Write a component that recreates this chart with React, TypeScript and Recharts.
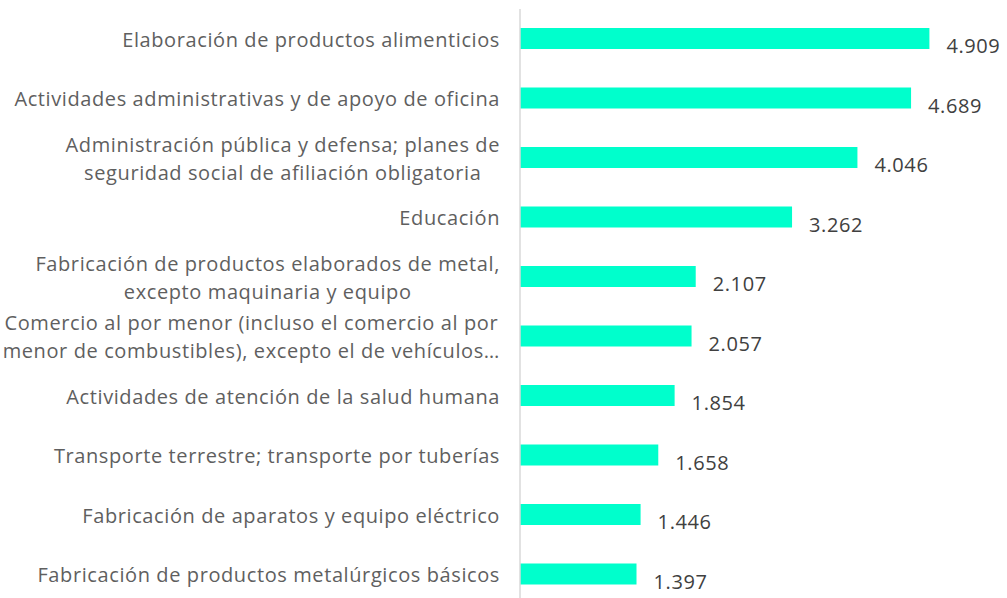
import { BarChart, Bar, XAxis, YAxis, LabelList } from "recharts";

const categories = [
  "Elaboración de productos alimenticios",
  "Actividades administrativas y de apoyo de oficina",
  "Administración pública y defensa; planes de\nseguridad social de afiliación obligatoria",
  "Educación",
  "Fabricación de productos elaborados de metal,\nexcepto maquinaria y equipo",
  "Comercio al por menor (incluso el comercio al por\nmenor de combustibles), excepto el de vehículos…",
  "Actividades de atención de la salud humana",
  "Transporte terrestre; transporte por tuberías",
  "Fabricación de aparatos y equipo eléctrico",
  "Fabricación de productos metalúrgicos básicos",
];

const values = [4909, 4689, 4046, 3262, 2107, 2057, 1854, 1658, 1446, 1397];

const data = categories.map((name, i) => ({ name, value: values[i] }));

const FONT = '"Open Sans", sans-serif';
const FONT_SIZE = 20;
const SPACING = 0.6;

let ctx: CanvasRenderingContext2D | null = null;
function textWidth(s: string) {
  if (!ctx) ctx = document.createElement("canvas").getContext("2d");
  if (!ctx) return s.length * 10;
  ctx.font = `${FONT_SIZE}px "Open Sans"`;
  return ctx.measureText(s).width + s.length * SPACING;
}

const fmt = (v: number) => v.toLocaleString("de-DE");

function CategoryTick(props: any) {
  const { x, y, payload } = props;
  const lines: string[] = String(payload.value).split("\n");
  const right = x - 12;
  const maxW = Math.max(...lines.map(textWidth));
  const cx = right - maxW / 2;
  const lh = 28;
  const startY = y - ((lines.length - 1) * lh) / 2;
  return (
    <text
      textAnchor="middle"
      fill="#5f5f5f"
      fontSize={FONT_SIZE}
      fontFamily={FONT}
      letterSpacing={SPACING}
      dominantBaseline="central"
    >
      {lines.map((l, i) => (
        <tspan key={i} x={cx} y={startY + i * lh}>
          {l}
        </tspan>
      ))}
    </text>
  );
}

function ValueLabel(props: any) {
  const { x, y, width, height, value } = props;
  return (
    <text
      x={x + width + 17}
      y={y + height / 2 + 7}
      fill="#404040"
      fontSize={FONT_SIZE}
      fontFamily={FONT}
      letterSpacing={SPACING}
      dominantBaseline="central"
    >
      {fmt(value)}
    </text>
  );
}

export default function App() {
  return (
    <div style={{ position: "absolute", top: 0, left: 0, background: "#fff" }}>
      <BarChart
        width={1007}
        height={610}
        layout="vertical"
        data={data}
        margin={{ top: 9, right: 70, bottom: 6, left: 0 }}
      >
        <XAxis type="number" domain={[0, 5000]} hide />
        <YAxis
          type="category"
          dataKey="name"
          width={520}
          axisLine={{ stroke: "#d9d9d9", strokeWidth: 1.5 }}
          tickLine={false}
          tick={<CategoryTick />}
          interval={0}
        />
        <Bar dataKey="value" fill="#00FFCC" barSize={21} isAnimationActive={false}>
          <LabelList dataKey="value" content={<ValueLabel />} />
        </Bar>
      </BarChart>
    </div>
  );
}
